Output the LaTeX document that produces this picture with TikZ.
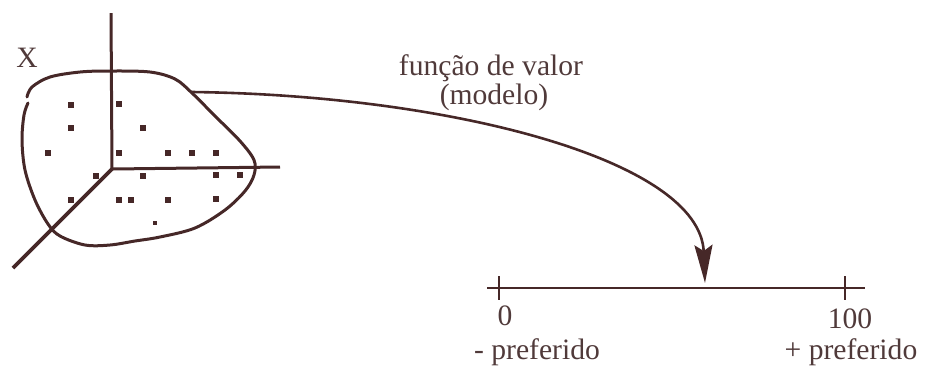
\documentclass[tikz,border=0pt]{standalone}
\usepackage{fontspec}
\setmainfont{Liberation Serif}
\usetikzlibrary{arrows.meta}
\definecolor{ink}{RGB}{70,40,40}
\definecolor{txt}{RGB}{80,58,58}
\begin{document}
\begin{tikzpicture}[x=0.5pt,y=-0.5pt,
  line/.style={draw=ink,line width=1.5pt},
  dot/.style={fill=ink,minimum size=2.6pt,inner sep=0pt,draw=none,rectangle},
  lbl/.style={text=txt,font=\fontsize{14.8}{17}\selectfont,inner sep=0pt,align=center}]
\useasboundingbox (0,0) rectangle (925,372);
% axes
\coordinate (O) at (112,169);
\coordinate (ztop) at (111,13);
\coordinate (xend) at (280,167);
\coordinate (yend) at (13,268);
\draw[line] (O) -- (ztop);
\draw[line] (O) -- (xend);
\draw[line,line width=1.8pt] (O) -- (yend);
% blob
\draw[line,line cap=round] plot[smooth,tension=0.55] coordinates {
 (27,97) (32,87) (50,77) (80,72) (110,71) (150,72) (175,79) (192,93)
 (215,116) (240,141) (254,160) (254,175) (245,191) (225,210) (195,228)
 (160,237) (135,241) (110,245) (85,245) (60,236) (48,224) (35,200)
 (25,170) (22,140) (24,115) (28,103)};
% points
\foreach \i/\p in {1/{(71,105)},2/{(119,104)},3/{(71,128)},4/{(143,128)},
  5/{(48,153)},6/{(119,153)},7/{(168,153)},8/{(192,153)},9/{(216,153)},
  10/{(96,176)},11/{(143,176)},12/{(216,175)},13/{(240,175)},
  14/{(71,200)},15/{(119,200)},16/{(131,200)},17/{(168,200)},18/{(216,199)}}
  \node[dot] (p\i) at \p {};
\node[dot,minimum size=1.6pt] (p19) at (155,223) {};
\node[lbl] (X) at (27,58) {X};
% scale
\coordinate (sL) at (487,288);
\coordinate (sR) at (865,288);
\coordinate (t0) at (499,288);
\coordinate (t100) at (845,288);
\draw[line,line width=1.3pt] (sL) -- (sR);
\draw[line,line width=1.3pt] ([yshift=6pt]t0) -- ([yshift=-6pt]t0);
\draw[line,line width=1.3pt] ([yshift=6pt]t100) -- ([yshift=-6pt]t100);
\node[lbl] (n0) at (505,316) {0};
\node[lbl] (n100) at (850,319) {100};
\node[lbl] (lmin) at (537,352) {- preferido};
\node[lbl] (lmax) at (851,352) {+ preferido};
% arrow
\coordinate (start) at (192,92);
\coordinate (tip) at (705,283);
\draw[line,line width=1.3pt,-{Stealth[length=19pt,width=9pt,inset=3pt]}] (start) .. controls (450,95) and (700,160) .. (tip);
\node[lbl] (f1) at (491,68) {função de valor};
\node[lbl] (f2) at (494,97) {(modelo)};
\end{tikzpicture}
\end{document}
